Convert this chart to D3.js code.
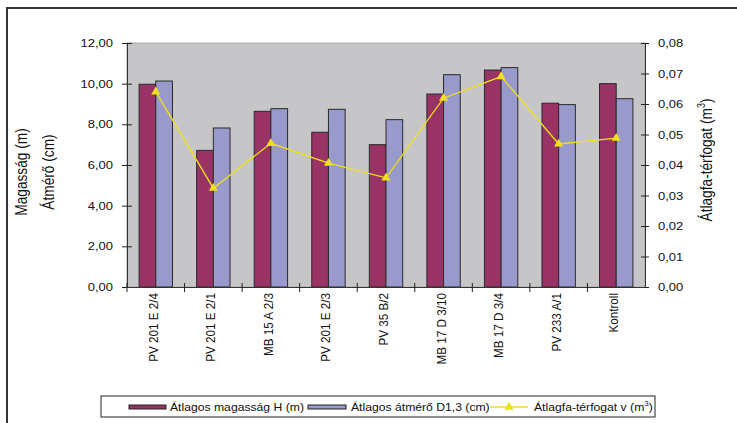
<!DOCTYPE html>
<html>
<head>
<meta charset="utf-8">
<script src="https://cdn.jsdelivr.net/npm/d3@7/dist/d3.min.js"></script>
<style>
  body { margin: 0; background: #fff; }
  text { font-family: "Liberation Sans", Arial, sans-serif; fill: #111; }
</style>
</head>
<body>
<div id="chart"></div>
<script>
// data
var categories = ["PV 201 E 2/4", "PV 201 E 2/1", "MB 15 A 2/3", "PV 201 E 2/3", "PV 35 B/2",
                  "MB 17 D 3/10", "MB 17 D 3/4", "PV 233 A/1", "Kontroll"];
var magassag = [9.97, 6.72, 8.64, 7.61, 7.00, 9.49, 10.67, 9.04, 10.00];
var atmero   = [10.13, 7.82, 8.77, 8.74, 8.23, 10.44, 10.79, 8.97, 9.26];
var terfogat = [0.064, 0.0324, 0.0471, 0.0406, 0.0358, 0.0619, 0.069, 0.0469, 0.0488];
var leftTicks = [0, 2, 4, 6, 8, 10, 12];
var rightTicks = [0, 0.01, 0.02, 0.03, 0.04, 0.05, 0.06, 0.07, 0.08];
var seriesNames = ["Átlagos magasság H (m)", "Átlagos átmérő D1,3 (cm)", "Átlagfa-térfogat v (m"];

var W = 737, H = 423;
var margin = {top: 43, right: 92, bottom: 136, left: 127};
var width = W - margin.left - margin.right,
    height = H - margin.top - margin.bottom;

// the original figure is stretched sideways, text too
var S = 1.15;

var colRed = "#993366", colBlue = "#9999cc", colLine = "#eee11c", colBg = "#c6c6c8";

var loc = d3.formatLocale({decimal: ",", thousands: " ", grouping: [3], currency: ["", ""]});
var fmt = loc.format(".2f");

var svg = d3.select("#chart").append("svg")
    .attr("width", W).attr("height", H);

// outer frame
svg.append("rect")
    .attr("x", 7).attr("y", 8)
    .attr("width", W + 10).attr("height", H + 10)
    .attr("fill", "none").attr("stroke", "#333").attr("stroke-width", 2);

var g = svg.append("g")
    .attr("transform", "translate(" + margin.left + "," + margin.top + ")");

g.append("rect")
    .attr("width", width).attr("height", height)
    .attr("fill", colBg).attr("stroke", "#a8a8a8");

var x0 = d3.scaleBand().domain(categories).range([0, width]);
var x1 = d3.scaleBand().domain(["h", "d"])
    .range([x0.bandwidth() * 0.21, x0.bandwidth() * 0.79]);
var yL = d3.scaleLinear().domain([0, 12]).range([height, 0]);
var yR = d3.scaleLinear().domain([0, 0.08]).range([height, 0]);

// bars
var groups = g.selectAll(".grp")
  .data(categories)
  .enter().append("g")
    .attr("class", "grp")
    .attr("transform", function(d) { return "translate(" + x0(d) + ",0)"; });

groups.append("rect")
    .attr("x", x1("h"))
    .attr("y", function(d, i) { return yL(magassag[i]); })
    .attr("width", x1.bandwidth())
    .attr("height", function(d, i) { return height - yL(magassag[i]); })
    .attr("fill", colRed).attr("stroke", "#2a2a2a");

groups.append("rect")
    .attr("x", x1("d"))
    .attr("y", function(d, i) { return yL(atmero[i]); })
    .attr("width", x1.bandwidth())
    .attr("height", function(d, i) { return height - yL(atmero[i]); })
    .attr("fill", colBlue).attr("stroke", "#2a2a2a");

// line series
var line = d3.line()
    .x(function(d, i) { return x0(categories[i]) + x0.bandwidth() / 2; })
    .y(function(d) { return yR(d); });

g.append("path")
    .datum(terfogat)
    .attr("d", line)
    .attr("fill", "none").attr("stroke", colLine).attr("stroke-width", 1.3);

var tri = d3.symbol().type(d3.symbolTriangle).size(36);
g.selectAll(".pt")
  .data(terfogat)
  .enter().append("path")
    .attr("class", "pt")
    .attr("d", tri)
    .attr("transform", function(d, i) {
      return "translate(" + (x0(categories[i]) + x0.bandwidth() / 2) + "," + yR(d) + ")";
    })
    .attr("fill", colLine);

// left axis (crossing ticks)
var axL = g.append("g")
    .call(d3.axisLeft(yL).tickValues(leftTicks).tickSize(5).tickFormat(fmt));
g.append("g")
    .call(d3.axisLeft(yL).tickValues(leftTicks).tickSize(-5).tickFormat(""))
    .select(".domain").remove();
axL.selectAll(".tick text")
    .attr("x", -14 / S)
    .attr("transform", "scale(" + S + ",1)")
    .style("font-size", "11.3px");

// right axis
var axR = g.append("g")
    .attr("transform", "translate(" + width + ",0)")
    .call(d3.axisRight(yR).tickValues(rightTicks).tickSize(4).tickFormat(fmt));
g.append("g")
    .attr("transform", "translate(" + width + ",0)")
    .call(d3.axisRight(yR).tickValues(rightTicks).tickSize(-4).tickFormat(""))
    .select(".domain").remove();
axR.selectAll(".tick text")
    .attr("x", 13 / S)
    .attr("transform", "scale(" + S + ",1)")
    .style("font-size", "11.3px");

// bottom axis
var axB = g.append("g")
    .attr("transform", "translate(0," + height + ")")
    .call(d3.axisBottom(x0).tickSize(0).tickPadding(0));
axB.selectAll(".tick text")
    .attr("transform", "scale(" + S + ",1) rotate(-90)")
    .attr("text-anchor", "end")
    .attr("x", -6).attr("y", 2 / S).attr("dy", 0)
    .style("font-size", "11.7px");

g.selectAll(".xtick")
  .data(categories)
  .enter().append("line")
    .attr("class", "xtick")
    .attr("x1", function(d) { return x0(d); })
    .attr("x2", function(d) { return x0(d); })
    .attr("y1", height - 4).attr("y2", height + 5)
    .attr("stroke", "#222");

svg.selectAll(".domain").attr("stroke", "#333");
svg.selectAll(".tick line").attr("stroke", "#222");

// axis titles
function vTitle(x, y) {
  return svg.append("g")
      .attr("transform", "translate(" + x + "," + y + ") scale(" + S + ",1) rotate(-90)")
    .append("text")
      .attr("text-anchor", "middle")
      .style("font-size", "13.7px");
}
vTitle(27, 172).text("Magasság (m)");
vTitle(54, 172).text("Átmérő (cm)");

var rt = vTitle(712, 160);
rt.append("tspan").text("Átlagfa-térfogat (m");
rt.append("tspan").attr("dy", -6).style("font-size", "9px").text("3");
rt.append("tspan").attr("dy", 6).text(")");

// legend
var lg = svg.append("g");
lg.append("rect")
    .attr("x", 101).attr("y", 396).attr("width", 554).attr("height", 21)
    .attr("fill", "#fff").attr("stroke", "#222");

var legX = [129, 308, 490];
lg.append("rect").attr("x", legX[0]).attr("y", 405).attr("width", 37).attr("height", 4)
    .attr("fill", colRed).attr("stroke", "#222");
lg.append("rect").attr("x", legX[1]).attr("y", 405).attr("width", 38).attr("height", 4)
    .attr("fill", colBlue).attr("stroke", "#222");
lg.append("line").attr("x1", legX[2]).attr("x2", legX[2] + 38)
    .attr("y1", 407).attr("y2", 407)
    .attr("stroke", colLine).attr("stroke-width", 1.3);
lg.append("path").attr("d", tri)
    .attr("transform", "translate(" + (legX[2] + 19) + ",407)")
    .attr("fill", colLine);

var legText = [170, 351, 534];
seriesNames.forEach(function(s, i) {
  var t = lg.append("g")
      .attr("transform", "translate(" + legText[i] + ",411) scale(" + S + ",1)")
    .append("text")
      .style("font-size", "10.6px");
  t.append("tspan").text(s);
  if (i === 2) {
    t.append("tspan").attr("dy", -5).style("font-size", "7px").text("3");
    t.append("tspan").attr("dy", 5).text(")");
  }
});
</script>
</body>
</html>
